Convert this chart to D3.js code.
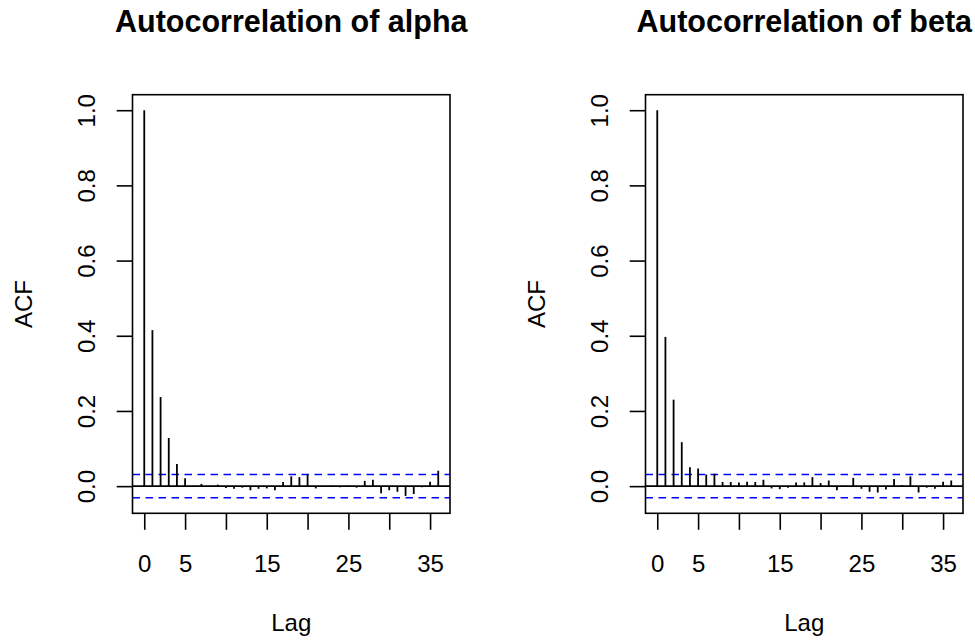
<!DOCTYPE html>
<html>
<head>
<meta charset="utf-8">
<script src="https://cdn.jsdelivr.net/npm/d3@7"></script>
<style>
  body { margin: 0; background: #fff; }
  svg text { font-family: "Liberation Sans", Arial, Helvetica, sans-serif; fill: #000; }
</style>
</head>
<body>
<div id="chart"></div>
<script>
// acf values, lags 0..36
var lags = d3.range(0, 37);
var acfAlpha = [1.0, 0.415, 0.237, 0.128, 0.059, 0.021, 0.001, 0.006, 0.001, 0.004,
    -0.005, -0.007, -0.004, -0.011, -0.007, -0.006, -0.011, 0.011, 0.026, 0.024,
    0.031, -0.006, -0.001, 0.001, -0.003, 0.001, -0.004, 0.014, 0.017, -0.019,
    -0.011, -0.015, -0.026, -0.021, -0.003, 0.012, 0.041];
var acfBeta = [1.0, 0.397, 0.230, 0.117, 0.050, 0.047, 0.031, 0.033, 0.011, 0.011,
    0.010, 0.012, 0.011, 0.017, -0.006, -0.008, -0.004, 0.010, 0.010, 0.024,
    0.008, 0.015, -0.011, 0.001, 0.022, -0.007, -0.015, -0.017, -0.009, 0.019,
    0.003, 0.026, -0.017, -0.004, -0.007, 0.012, 0.015];
var ciBound = 0.031;

var titles = ["Autocorrelation of alpha", "Autocorrelation of beta"];
var xTicks = [0, 5, 10, 15, 20, 25, 30, 35];
var xLabels = [0, 5, 15, 25, 35];
var yTicks = [0, 0.2, 0.4, 0.6, 0.8, 1.0];

// panel geometry (same for both panels, second one shifted right)
var panelShift = 513;
var box = {left: 132.5, top: 94.7, width: 317.5, height: 418.6};

var svg = d3.select("#chart")
    .append("svg")
    .attr("width", 975)
    .attr("height", 643);

// R style 4% padding on both ends
function padded(lo, hi) {
    let p = (hi - lo) * 0.04;
    return [lo - p, hi + p];
}

function drawPanel(idx, values) {
    let g = svg.append("g")
        .attr("transform", "translate(" + (idx * panelShift) + ",0)");

    let x = d3.scaleLinear()
        .domain(padded(d3.min(lags), d3.max(lags)))
        .range([box.left, box.left + box.width]);
    let y = d3.scaleLinear()
        .domain(padded(Math.min(d3.min(values), -ciBound), Math.max(d3.max(values), ciBound)))
        .range([box.top + box.height, box.top]);

    // X axis
    let xAxis = g.append("g")
        .attr("transform", "translate(0," + (box.top + box.height) + ")")
        .call(d3.axisBottom(x)
            .tickValues(xTicks)
            .tickSize(16.5)
            .tickSizeOuter(0)
            .tickFormat(function(d) { return xLabels.indexOf(d) >= 0 ? d : ""; }));
    xAxis.select(".domain").remove();
    xAxis.selectAll(".tick line").attr("stroke", "#000").attr("stroke-width", 1.6);
    xAxis.selectAll("text")
        .attr("y", 58.4)
        .attr("dy", null)
        .style("font-size", "24px");

    // Y axis, labels turned like R's las=0
    let yAxis = g.append("g")
        .attr("transform", "translate(" + box.left + ",0)")
        .call(d3.axisLeft(y)
            .tickValues(yTicks)
            .tickSize(15.8)
            .tickSizeOuter(0)
            .tickFormat(d3.format(".1f")));
    yAxis.select(".domain").remove();
    yAxis.selectAll(".tick line").attr("stroke", "#000").attr("stroke-width", 1.6);
    yAxis.selectAll("text")
        .attr("x", null)
        .attr("dy", null)
        .attr("text-anchor", "middle")
        .attr("transform", "translate(-37.5,0) rotate(-90)")
        .style("font-size", "24px");

    // confidence bounds
    g.selectAll(".ci")
        .data([ciBound, -ciBound])
        .enter()
        .append("line")
        .attr("x1", box.left)
        .attr("x2", box.left + box.width)
        .attr("y1", function(d) { return y(d); })
        .attr("y2", function(d) { return y(d); })
        .attr("stroke", "#0000ff")
        .attr("stroke-width", 1.6)
        .attr("stroke-dasharray", "7.5,5.5");

    // zero line
    g.append("line")
        .attr("x1", box.left)
        .attr("x2", box.left + box.width)
        .attr("y1", y(0))
        .attr("y2", y(0))
        .attr("stroke", "#000")
        .attr("stroke-width", 1.6);

    // acf spikes
    g.selectAll(".spike")
        .data(values)
        .enter()
        .append("line")
        .attr("x1", function(d, i) { return x(lags[i]); })
        .attr("x2", function(d, i) { return x(lags[i]); })
        .attr("y1", y(0))
        .attr("y2", function(d) { return y(d); })
        .attr("stroke", "#000")
        .attr("stroke-width", 1.8);

    // box
    g.append("rect")
        .attr("x", box.left)
        .attr("y", box.top)
        .attr("width", box.width)
        .attr("height", box.height)
        .attr("fill", "none")
        .attr("stroke", "#000")
        .attr("stroke-width", 1.6);

    g.append("text")
        .attr("x", box.left + box.width / 2)
        .attr("y", 32)
        .attr("text-anchor", "middle")
        .style("font-size", "30.5px")
        .style("font-weight", "bold")
        .text(titles[idx]);

    g.append("text")
        .attr("x", box.left + box.width / 2)
        .attr("y", 631)
        .attr("text-anchor", "middle")
        .style("font-size", "24px")
        .text("Lag");

    g.append("text")
        .attr("transform", "translate(31.5," + (box.top + box.height / 2) + ") rotate(-90)")
        .attr("text-anchor", "middle")
        .style("font-size", "24px")
        .text("ACF");
}

drawPanel(0, acfAlpha);
drawPanel(1, acfBeta);
</script>
</body>
</html>
